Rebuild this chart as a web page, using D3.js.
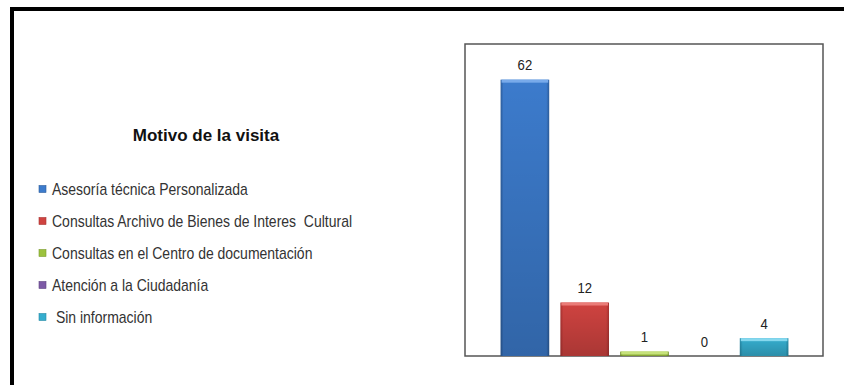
<!DOCTYPE html>
<html>
<head>
<meta charset="utf-8">
<script src="https://cdn.jsdelivr.net/npm/d3@7"></script>
<style>
  body { margin: 0; background: #fff; }
  text { font-family: "Liberation Sans Narrow", "Arial Narrow", "Liberation Sans", Arial, sans-serif; }
</style>
</head>
<body>
<svg id="chart"></svg>
<script>
// datos del grafico
const categories = [
  "Asesoría técnica Personalizada",
  "Consultas Archivo de Bienes de Interes  Cultural",
  "Consultas en el Centro de documentación",
  "Atención a la Ciudadanía",
  " Sin información"
];
const values = [62, 12, 1, 0, 4];
const title = "Motivo de la visita";
const colors = ["#3c7bcc", "#cf4340", "#9cc23e", "#7d5aa6", "#35adce"];
const darkColors = ["#2c5c9a", "#a83231", "#7a9a2c", "#5e4480", "#2689a6"];
const lightColors = ["#78aaea", "#ea7c78", "#c6e27a", "#a98ad0", "#86d8ee"];

const width = 844, height = 385;
const svg = d3.select("#chart").attr("width", width).attr("height", height);
const defs = svg.append("defs");

// fuente estrecha simulada (no hay Arial Narrow)
const narrow = 0.875;

// marco negro (arriba y a la izquierda)
svg.append("rect").attr("x", 10).attr("y", 7).attr("width", width - 10).attr("height", 4).attr("fill", "#000");
svg.append("rect").attr("x", 10).attr("y", 7).attr("width", 4).attr("height", height - 7).attr("fill", "#000");

// caja del grafico
const box = { left: 465, top: 44, right: 823, bottom: 356 };

const x = d3.scaleBand()
  .domain(categories)
  .range([495, 794])
  .paddingInner(0.187)
  .paddingOuter(0.0935);

const y = d3.scaleLinear()
  .domain([0, 70])
  .range([box.bottom, box.top]);

// degradados para el efecto biselado
categories.forEach((c, i) => {
  const g = defs.append("linearGradient").attr("id", "grad" + i)
    .attr("x1", 0).attr("y1", 0).attr("x2", 1).attr("y2", 0);
  g.append("stop").attr("offset", "0%").attr("stop-color", darkColors[i]);
  g.append("stop").attr("offset", "6%").attr("stop-color", colors[i]);
  g.append("stop").attr("offset", "94%").attr("stop-color", colors[i]);
  g.append("stop").attr("offset", "100%").attr("stop-color", darkColors[i]);
  const v = defs.append("linearGradient").attr("id", "shade" + i)
    .attr("x1", 0).attr("y1", 0).attr("x2", 0).attr("y2", 1);
  v.append("stop").attr("offset", "0%").attr("stop-color", "#000").attr("stop-opacity", 0);
  v.append("stop").attr("offset", "100%").attr("stop-color", "#000").attr("stop-opacity", 0.18);
});

svg.append("rect")
  .attr("x", box.left).attr("y", box.top)
  .attr("width", box.right - box.left).attr("height", box.bottom - box.top)
  .attr("fill", "#fff").attr("stroke", "#555").attr("stroke-width", 1.5);

const bars = svg.append("g");
const data = categories.map((c, i) => ({ c, v: values[i], i }));

bars.selectAll("rect.bar")
  .data(data.filter(d => d.v > 0))
  .enter().append("rect")
  .attr("class", "bar")
  .attr("x", d => x(d.c))
  .attr("y", d => y(d.v))
  .attr("width", x.bandwidth())
  .attr("height", d => y(0) - y(d.v))
  .attr("fill", d => "url(#grad" + d.i + ")");

bars.selectAll("rect.shade")
  .data(data.filter(d => d.v > 0))
  .enter().append("rect")
  .attr("class", "shade")
  .attr("x", d => x(d.c))
  .attr("y", d => y(d.v))
  .attr("width", x.bandwidth())
  .attr("height", d => y(0) - y(d.v))
  .attr("fill", d => "url(#shade" + d.i + ")");

// borde superior claro
bars.selectAll("rect.cap")
  .data(data.filter(d => d.v > 0))
  .enter().append("rect")
  .attr("class", "cap")
  .attr("x", d => x(d.c) + 1)
  .attr("y", d => y(d.v))
  .attr("width", x.bandwidth() - 2)
  .attr("height", d => Math.min(3, y(0) - y(d.v)))
  .attr("fill", d => lightColors[d.i]);

// etiquetas de valores
svg.selectAll("text.val")
  .data(data)
  .enter().append("text")
  .attr("class", "val")
  .attr("transform", d => "translate(" + (x(d.c) + x.bandwidth() / 2) + "," + (y(d.v) - 9.5) + ") scale(" + narrow + ",1)")
  .attr("text-anchor", "middle")
  .attr("font-size", 15)
  .attr("fill", "#222")
  .text(d => d.v);

// leyenda
svg.append("text")
  .attr("x", 206).attr("y", 141)
  .attr("text-anchor", "middle")
  .attr("font-size", 17)
  .attr("font-weight", "bold")
  .attr("fill", "#111")
  .text(title);

const legend = svg.append("g");
const rows = legend.selectAll("g")
  .data(data)
  .enter().append("g")
  .attr("transform", d => "translate(0," + (189 + d.i * 32) + ")");

rows.append("rect")
  .attr("x", 39).attr("y", -3.5)
  .attr("width", 7).attr("height", 7)
  .attr("fill", d => colors[d.i])
  .attr("stroke", d => darkColors[d.i]).attr("stroke-width", 0.6);

rows.append("text")
  .attr("transform", "translate(52,6) scale(" + narrow + ",1)")
  .attr("font-size", 16)
  .attr("fill", "#333")
  .style("white-space", "pre")
  .text(d => d.c);
</script>
</body>
</html>
